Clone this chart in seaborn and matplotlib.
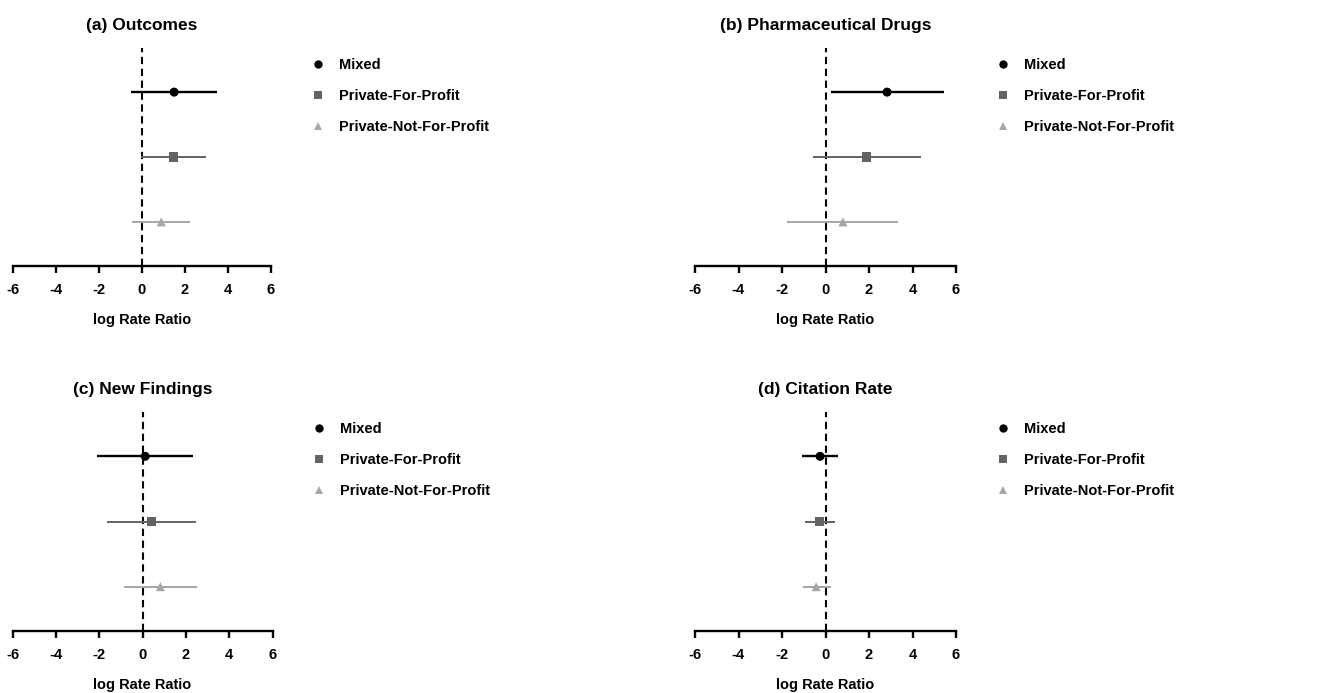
import numpy as np
import pandas as pd
import matplotlib
matplotlib.use('Agg')
import matplotlib.pyplot as plt
import seaborn as sns
from matplotlib import font_manager

# groups and estimates (log rate ratio with 95% CI)
groups = ['Mixed', 'Private-For-Profit', 'Private-Not-For-Profit']

outcomes_est = [1.50, 1.45, 0.90]
outcomes_lo = [-0.50, -0.05, -0.45]
outcomes_hi = [3.50, 3.00, 2.23]

pharma_est = [2.83, 1.90, 0.80]
pharma_lo = [0.23, -0.58, -1.76]
pharma_hi = [5.43, 4.40, 3.33]

findings_est = [0.12, 0.40, 0.82]
findings_lo = [-2.10, -1.65, -0.86]
findings_hi = [2.34, 2.46, 2.49]

citation_est = [-0.25, -0.26, -0.43]
citation_lo = [-1.06, -0.92, -1.03]
citation_hi = [0.58, 0.43, 0.23]

titles = ['(a) Outcomes', '(b) Pharmaceutical Drugs', '(c) New Findings', '(d) Citation Rate']
x_ticks = [-6, -4, -2, 0, 2, 4, 6]

sns.set_style('white')
names = {f.name for f in font_manager.fontManager.ttflist}
narrow = 'Liberation Sans Narrow' in names
if narrow:
    plt.rcParams['font.family'] = ['Liberation Sans Narrow', 'DejaVu Sans']
    fs_title, fs_lab, fs_tick, fs_leg = 15, 12.5, 12, 12.5
else:
    plt.rcParams['font.family'] = ['Liberation Sans', 'DejaVu Sans']
    fs_title, fs_lab, fs_tick, fs_leg = 12.5, 10.5, 10.5, 10.5
plt.rcParams['axes.unicode_minus'] = False
plt.rcParams['text.color'] = 'black'
plt.rcParams['xtick.color'] = 'black'
plt.rcParams['axes.labelcolor'] = 'black'

colors = {'Mixed': '#000000', 'Private-For-Profit': '#636363', 'Private-Not-For-Profit': '#a6a6a6'}
markers = {'Mixed': 'o', 'Private-For-Profit': 's', 'Private-Not-For-Profit': '^'}
widths = {'Mixed': 1.7, 'Private-For-Profit': 1.4, 'Private-Not-For-Profit': 1.4}

panels = [
    (outcomes_est, outcomes_lo, outcomes_hi),
    (pharma_est, pharma_lo, pharma_hi),
    (findings_est, findings_lo, findings_hi),
    (citation_est, citation_lo, citation_hi),
]

fig = plt.figure(figsize=(13.18, 6.93), dpi=100)
W, H = 1318, 693
# axes boxes in pixels: left, top, right, bottom
boxes = [(12.7, 48, 271, 266), (695, 48, 956, 266),
         (12.7, 412, 272.5, 631), (695, 412, 956, 631)]

for i, (est, lo, hi) in enumerate(panels):
    l, t, r, b = boxes[i]
    ax = fig.add_axes([l / W, 1 - b / H, (r - l) / W, (b - t) / H])
    df = pd.DataFrame({'group': groups, 'est': est, 'lo': lo, 'hi': hi,
                       'y': [3, 2, 1]})

    ax.axvline(0, color='black', lw=1.5, ls=(0, (3.5, 2.2)), zorder=1)
    for _, row in df.iterrows():
        ax.hlines(row['y'], row['lo'], row['hi'], color=colors[row['group']],
                  lw=widths[row['group']], zorder=2)
    sns.scatterplot(data=df, x='est', y='y', hue='group', style='group',
                    palette=colors, markers=markers, s=42, linewidth=0,
                    ax=ax, zorder=3)

    ax.set_xlim(-6, 6)
    ax.set_ylim(0.32, 3.68)
    ax.set_xticks(x_ticks)
    ax.set_yticks([])
    ax.set_ylabel('')
    for s in ['top', 'right', 'left']:
        ax.spines[s].set_visible(False)
    ax.spines['bottom'].set_linewidth(1.7)
    ax.spines['bottom'].set_color('black')
    ax.tick_params(axis='x', direction='out', length=5, width=1.7, color='black',
                   pad=7, labelsize=fs_tick, bottom=True)
    for lab in ax.get_xticklabels():
        lab.set_fontweight('bold')
    ax.set_xlabel('log Rate Ratio', fontsize=fs_lab, fontweight='bold', labelpad=12)
    ax.set_title(titles[i], fontsize=fs_title, fontweight='bold', pad=13)

    handles, labels = ax.get_legend_handles_labels()
    for h in handles:
        h.set_markersize(6)
    ax.legend(handles, labels, loc='upper left', bbox_to_anchor=(1.152, 0.953),
              frameon=False, prop={'weight': 'bold', 'size': fs_leg},
              handlelength=1.0, handletextpad=0.95, labelspacing=1.16,
              borderaxespad=0, borderpad=0)

fig.savefig('out.png', dpi=100)
